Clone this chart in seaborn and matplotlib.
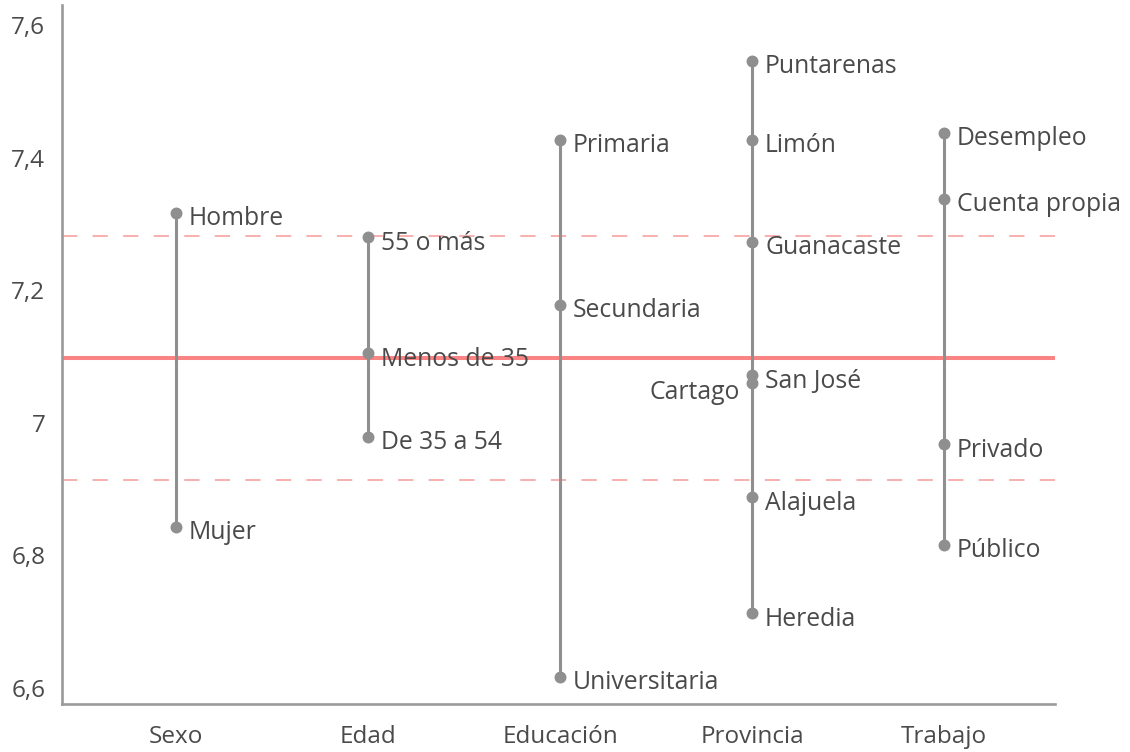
import pandas as pd
import matplotlib.pyplot as plt
import seaborn as sns

# datos
grupos = ["Sexo", "Edad", "Educación", "Provincia", "Trabajo"]

sexo = ["Hombre", "Mujer"]
sexo_val = [7.317, 6.843]

edad = ["55 o más", "Menos de 35", "De 35 a 54"]
edad_val = [7.280, 7.105, 6.979]

educacion = ["Primaria", "Secundaria", "Universitaria"]
educacion_val = [7.427, 7.178, 6.617]

provincia = ["Puntarenas", "Limón", "Guanacaste", "San José", "Cartago", "Alajuela", "Heredia"]
provincia_val = [7.546, 7.427, 7.273, 7.072, 7.060, 6.888, 6.713]

trabajo = ["Desempleo", "Cuenta propia", "Privado", "Público"]
trabajo_val = [7.437, 7.338, 6.968, 6.816]

promedio = 7.098
banda = [7.282, 6.914]

# etiquetas que van a la izquierda del punto
izquierda = ["Cartago"]

rows = []
for g, labs, vals in zip(grupos,
                         [sexo, edad, educacion, provincia, trabajo],
                         [sexo_val, edad_val, educacion_val, provincia_val, trabajo_val]):
    for l, v in zip(labs, vals):
        rows.append({"grupo": g, "etiqueta": l, "valor": v})
df = pd.DataFrame(rows)

sns.set_style("white")
plt.rcParams['font.family'] = ['Open Sans', 'DejaVu Sans']

gris = "#8f8f8f"
rojo = "#fa8383"
texto = "#4a4a4a"

fig = plt.figure(figsize=(11.3, 7.52), dpi=100)
ax = fig.add_axes([0.0549, 0.0638, 0.8787, 0.9296])

# líneas de referencia
ax.axhline(promedio, color=rojo, lw=2.9, zorder=1)
for b in banda:
    ax.axhline(b, color="#f59a9a", lw=1.1, ls=(0, (10, 10)), zorder=1)

# rangos por grupo
rng = df.groupby("grupo", sort=False)["valor"].agg(["min", "max"]).reindex(grupos)
ax.vlines(range(len(grupos)), rng["min"], rng["max"], color=gris, lw=2.2, zorder=2)

sns.stripplot(data=df, x="grupo", y="valor", order=grupos, jitter=False,
              color=gris, size=8.6, linewidth=0, zorder=3, ax=ax)

pos = {g: i for i, g in enumerate(grupos)}
for _, r in df.iterrows():
    if r["etiqueta"] in izquierda:
        ax.annotate(r["etiqueta"], (pos[r["grupo"]], r["valor"]), xytext=(-12, -9),
                    textcoords="offset pixels", ha="right", va="center",
                    fontsize=17.8, color=texto, annotation_clip=False)
    else:
        ax.annotate(r["etiqueta"], (pos[r["grupo"]], r["valor"]), xytext=(13, -6),
                    textcoords="offset pixels", ha="left", va="center",
                    fontsize=17.8, color=texto, annotation_clip=False)

ax.set_xlim(-0.594, 4.578)
ax.set_ylim(6.576, 7.63)
ax.set_yticks([6.6, 6.8, 7.0, 7.2, 7.4, 7.6])
ax.set_yticklabels(["6,6", "6,8", "7", "7,2", "7,4", "7,6"])
ax.set_xlabel("")
ax.set_ylabel("")
ax.tick_params(axis="both", length=0, labelsize=17.5, labelcolor=texto)
ax.tick_params(axis="y", pad=12)
ax.tick_params(axis="x", pad=15)

sns.despine(ax=ax)
for s in ["left", "bottom"]:
    ax.spines[s].set_color("#9a9a9a")
    ax.spines[s].set_linewidth(1.9)

fig.savefig("out.png", dpi=100)
